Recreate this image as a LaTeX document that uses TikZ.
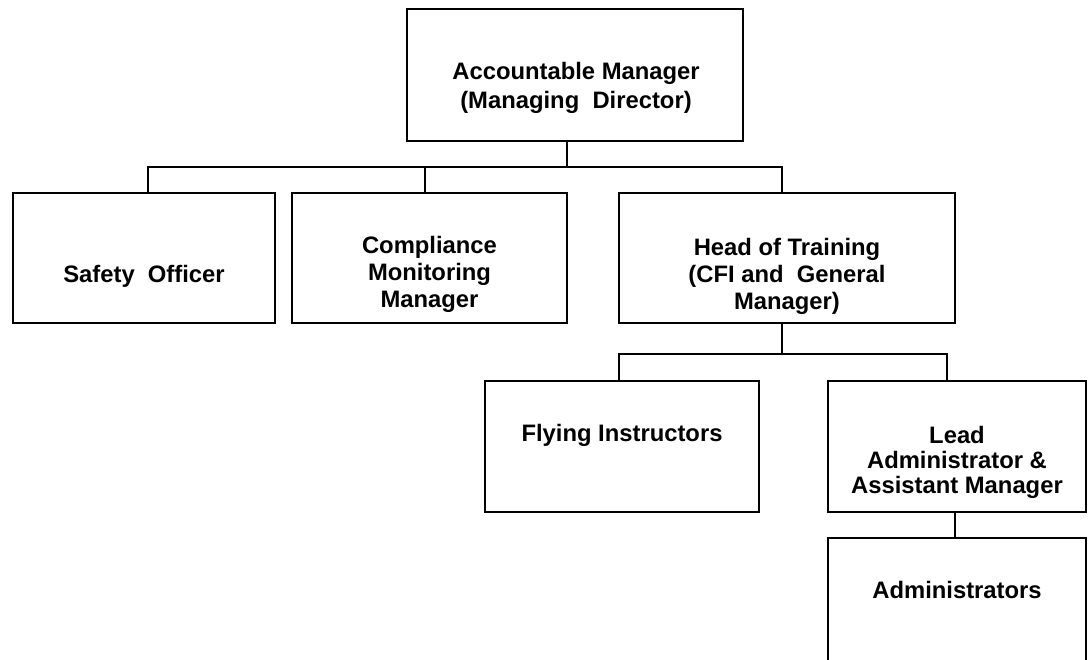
\documentclass[tikz,border=0pt]{standalone}
\usepackage{fontspec}
\setmainfont{Liberation Sans}
\begin{document}
\begin{tikzpicture}[x=1pt,y=-1pt,
  orgbox/.style={draw=black,line width=2.2pt,inner sep=0pt,outer sep=0pt,fill=white},
  lbl/.style={inner sep=0pt,outer sep=0pt,align=center,font=\fontsize{23.8}{27}\selectfont\bfseries},
  conn/.style={draw=black,line width=2.2pt,line cap=rect}]
\useasboundingbox[fill=white] (0,0) rectangle (1090,659);
% boxes
\node[orgbox,minimum width=336pt,minimum height=132pt] (top)    at (575,75)    {};
\node[orgbox,minimum width=262pt,minimum height=130pt] (safety) at (144,258)   {};
\node[orgbox,minimum width=275pt,minimum height=130pt] (comp)   at (429.5,258) {};
\node[orgbox,minimum width=336pt,minimum height=130pt] (hot)    at (787,258)   {};
\node[orgbox,minimum width=274pt,minimum height=131pt] (fi)     at (622,446.5) {};
\node[orgbox,minimum width=258pt,minimum height=131pt] (la)     at (957,446.5) {};
\node[orgbox,minimum width=258pt,minimum height=142pt] (admin)  at (957,609)   {};
% texts
\node[lbl,font=\fontsize{23.8}{29}\selectfont\bfseries] (topT) at (576,88) {Accountable Manager\\(Managing~~Director)};
\node[lbl] (safetyT) at (144,276.5) {Safety~~Officer};
\node[lbl] (compT) at (429.5,274) {Compliance\\Monitoring\\Manager};
\node[lbl] (hotT) at (787,276) {Head of Training\\(CFI and~~General\\Manager)};
\node[lbl] (fiT) at (622,435.5) {Flying Instructors};
\node[lbl,font=\fontsize{23.8}{25}\selectfont\bfseries] (laT) at (957,462.5) {Lead\\Administrator \&\\Assistant Manager};
\node[lbl] (adminT) at (957,590) {Administrators};
% junction coordinates
\coordinate (j0) at (567,167);
\coordinate (d1) at (148,167);
\coordinate (d2) at (425,167);
\coordinate (d3) at (782,167);
\coordinate (e0) at (782,354);
\coordinate (e1) at (619,354);
\coordinate (e2) at (947,354);
\coordinate (f0) at (955,0);
% connectors
\draw[conn] (top.south -| j0) -- (j0);
\draw[conn] (safety.north -| d1) -- (d1) -- (d3) -- (hot.north -| d3);
\draw[conn] (d2) -- (comp.north -| d2);
\draw[conn] (hot.south -| e0) -- (e0);
\draw[conn] (fi.north -| e1) -- (e1) -- (e2) -- (la.north -| e2);
\draw[conn] (la.south -| f0) -- (admin.north -| f0);
\end{tikzpicture}
\end{document}
